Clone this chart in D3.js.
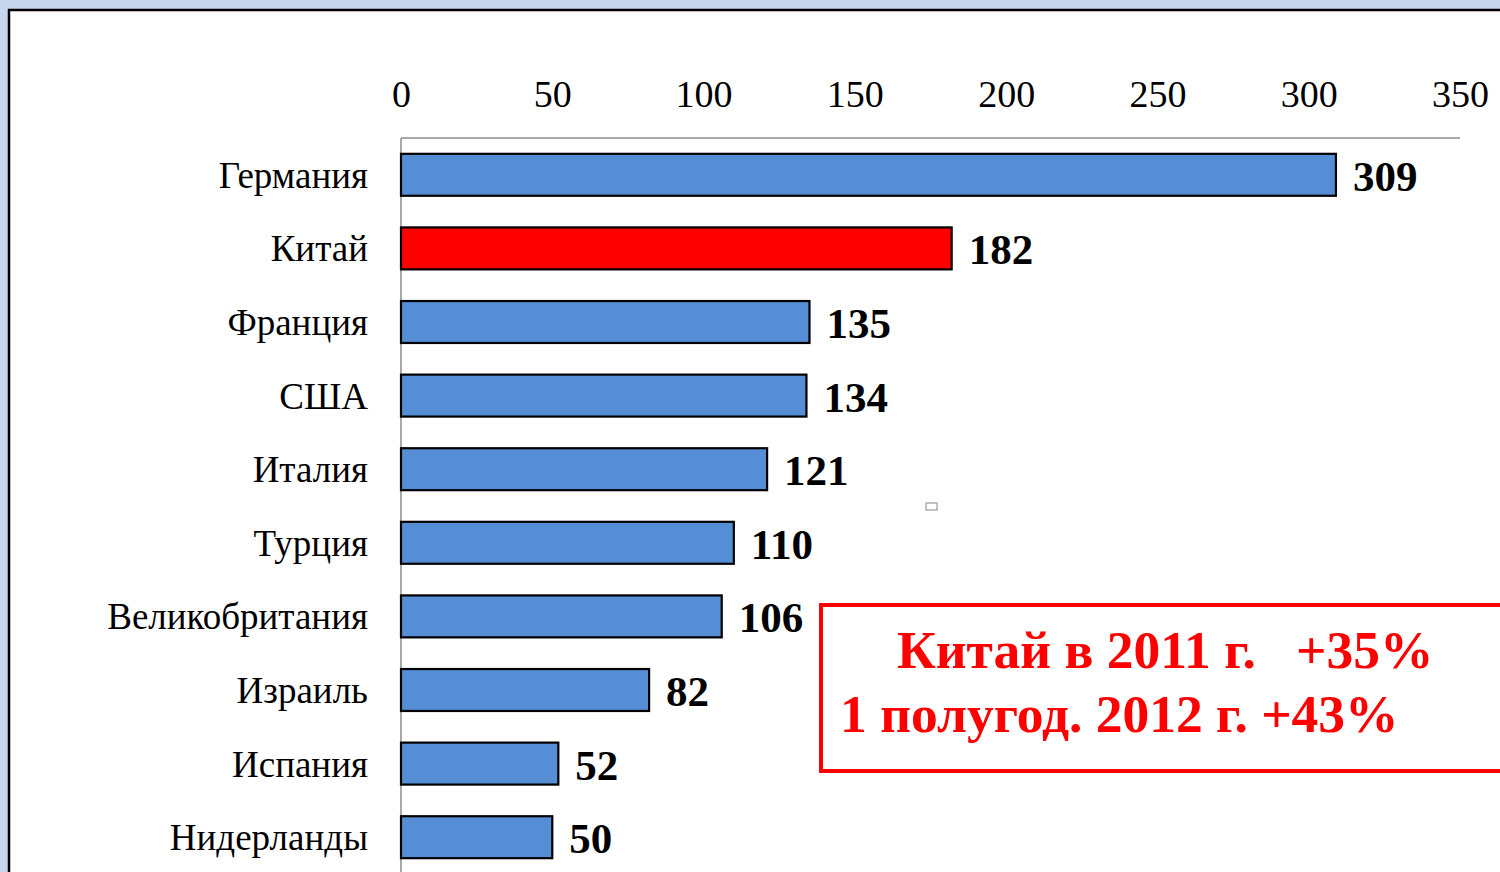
<!DOCTYPE html>
<html><head><meta charset="utf-8">
<script src="https://cdn.jsdelivr.net/npm/d3@7"></script>
<style>html,body{margin:0;padding:0;background:#c6d6ec;overflow:hidden}</style>
</head><body>
<svg id="c" width="1500" height="872"></svg>
<script>
const categories = ["Германия","Китай","Франция","США","Италия","Турция","Великобритания","Израиль","Испания","Нидерланды"];
const values = [309,182,135,134,121,110,106,82,52,50];
const highlight = ["Китай"];
const tickValues = [0,50,100,150,200,250,300,350];
const noteLines = ["Китай в 2011 г.   +35%","1 полугод. 2012 г. +43%"];

const svg = d3.select("#c");
svg.append("rect").attr("x",9).attr("y",10).attr("width",1500).attr("height",880)
  .attr("fill","#fff").attr("stroke","#000").attr("stroke-width",2.5);

const x = d3.scaleLinear().domain([0,350]).range([401,1460]);
const y = d3.scaleBand().domain(categories).range([138,874]).paddingInner(0.43).paddingOuter(0.215);

const serif = "'Liberation Serif','Times New Roman',serif";

svg.append("line").attr("x1",x(0)).attr("x2",x(350)).attr("y1",138).attr("y2",138)
  .attr("stroke","#8c8c8c").attr("stroke-width",1.5);
svg.append("line").attr("x1",x(0)).attr("x2",x(0)).attr("y1",138).attr("y2",880)
  .attr("stroke","#8c8c8c").attr("stroke-width",1.5);

const ax = d3.axisTop(x).tickValues(tickValues).tickSize(0).tickPadding(0).tickFormat(d3.format("d"));
const axG = svg.append("g").attr("transform","translate(0,107)").call(ax);
axG.select(".domain").remove();
axG.selectAll("text").attr("font-family",serif).attr("font-size",38).attr("fill","#000");

const ay = d3.axisLeft(y).tickSize(0).tickPadding(0);
const ayG = svg.append("g").attr("transform","translate(368,0)").call(ay);
ayG.select(".domain").remove();
ayG.selectAll("text").attr("font-family",serif).attr("font-size",37).attr("fill","#000").attr("dy","0.35em");

svg.selectAll("rect.bar").data(categories).enter().append("rect").attr("class","bar")
  .attr("x",x(0)).attr("y",d=>y(d)).attr("height",y.bandwidth())
  .attr("width",(d,i)=>x(values[i])-x(0))
  .attr("fill",d=>highlight.includes(d)?"#ff0000":"#558ed5")
  .attr("stroke","#000").attr("stroke-width",2.2);

svg.selectAll("text.val").data(categories).enter().append("text").attr("class","val")
  .attr("x",(d,i)=>x(values[i])+17).attr("y",d=>y(d)+y.bandwidth()/2+16)
  .attr("font-family",serif).attr("font-weight","bold").attr("font-size",43).attr("fill","#000")
  .text((d,i)=>values[i]);

svg.append("rect").attr("x",926).attr("y",503).attr("width",11).attr("height",7)
  .attr("fill","#fff").attr("stroke","#999").attr("stroke-width",1.2);

svg.append("rect").attr("x",821).attr("y",605).attr("width",700).attr("height",166)
  .attr("fill","#fff").attr("stroke","#ff0000").attr("stroke-width",4);
svg.append("text").attr("x",897).attr("y",668).attr("font-family",serif).attr("font-weight","bold")
  .attr("font-size",53.5).attr("fill","#ff0000").style("white-space","pre").text(noteLines[0]);
svg.append("text").attr("x",840).attr("y",732).attr("font-family",serif).attr("font-weight","bold")
  .attr("font-size",53.5).attr("fill","#ff0000").style("white-space","pre").text(noteLines[1]);
</script>
</body></html>
